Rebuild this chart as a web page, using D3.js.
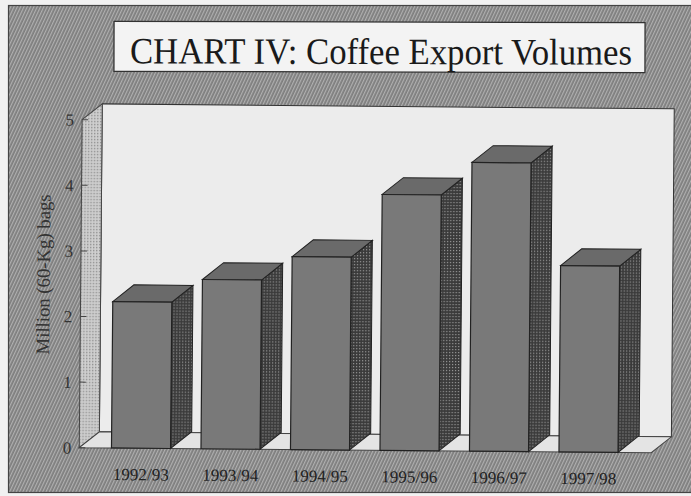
<!DOCTYPE html>
<html>
<head>
<meta charset="utf-8">
<script src="https://cdn.jsdelivr.net/npm/d3@7/dist/d3.min.js"></script>
<style>
  html, body { margin: 0; padding: 0; background: #f1f1f1; }
  svg { display: block; }
</style>
</head>
<body>
<svg id="chart" width="691" height="496"></svg>
<script>
const categories = ["1992/93", "1993/94", "1994/95", "1995/96", "1996/97", "1997/98"];
const values = [2.23, 2.58, 2.94, 3.90, 4.40, 2.84];
const yTicks = [0, 1, 2, 3, 4, 5];
const titleText = "CHART IV: Coffee Export Volumes";
const yTitle = "Million (60-Kg) bags";

const svg = d3.select("#chart");
const defs = svg.append("defs");

// panel hatch
const hatch = defs.append("pattern").attr("id", "hatch")
  .attr("width", 3).attr("height", 3).attr("patternUnits", "userSpaceOnUse")
  .attr("patternTransform", "rotate(25)");
hatch.append("rect").attr("width", 3).attr("height", 3).attr("fill", "#7e7e7e");
hatch.append("rect").attr("x", 0).attr("width", 1.2).attr("height", 3).attr("fill", "#b0b0b0");

// dark dotted side pattern
const side = defs.append("pattern").attr("id", "side")
  .attr("width", 3).attr("height", 3).attr("patternUnits", "userSpaceOnUse");
side.append("rect").attr("width", 3).attr("height", 3).attr("fill", "#3a3a3a");
side.append("rect").attr("x", 0).attr("y", 0).attr("width", 1.2).attr("height", 1.2).attr("fill", "#999");

// light dotted left wall pattern
const wallP = defs.append("pattern").attr("id", "wall")
  .attr("width", 3).attr("height", 3).attr("patternUnits", "userSpaceOnUse");
wallP.append("rect").attr("width", 3).attr("height", 3).attr("fill", "#cfcfcf");
wallP.append("rect").attr("x", 0).attr("y", 0).attr("width", 1.4).attr("height", 1.4).attr("fill", "#8e8e8e");

// outer panel
svg.append("rect").attr("x", 8.5).attr("y", 5.5).attr("width", 690).attr("height", 487)
  .attr("fill", "url(#hatch)").attr("stroke", "#444").attr("stroke-width", 1.2);

// title box
const tg = svg.append("g").attr("transform", "rotate(0.15,380,47)");
tg.append("rect").attr("x", 114).attr("y", 22).attr("width", 531).attr("height", 50)
  .attr("fill", "#f3f3f3").attr("stroke", "#333").attr("stroke-width", 1.3);
tg.append("text").attr("x", 130).attr("y", 64)
  .attr("font-family", "'Liberation Serif', 'Times New Roman', serif")
  .attr("font-size", 37).attr("fill", "#1a1a1a")
  .attr("textLength", 502).attr("lengthAdjust", "spacingAndGlyphs")
  .text(titleText);

// plot group, slightly rotated like the scan
const g = svg.append("g").attr("transform", "rotate(0.5,345,250)");

const x0 = 81, x1 = 653;
const dx = 20, dy = -16;
const bdx = 21, bdy = -17;

const y = d3.scaleLinear().domain([0, 5]).range([450, 122]);
const x = d3.scaleBand().domain(categories).range([98, 635]).paddingInner(0.34).paddingOuter(0.17);

const y0 = y(0), yTop = y(5);

// back wall
g.append("rect").attr("x", x0 + dx).attr("y", yTop + dy)
  .attr("width", x1 - x0).attr("height", y0 - yTop)
  .attr("fill", "#ececec").attr("stroke", "#333").attr("stroke-width", 1);

// left wall
g.append("path")
  .attr("d", `M${x0},${yTop} L${x0 + dx},${yTop + dy} L${x0 + dx},${y0 + dy} L${x0},${y0} Z`)
  .attr("fill", "url(#wall)").attr("stroke", "#444").attr("stroke-width", 1);

// floor
g.append("path")
  .attr("d", `M${x0},${y0} L${x0 + dx},${y0 + dy} L${x1 + dx},${y0 + dy} L${x1},${y0} Z`)
  .attr("fill", "#e4e4e4").attr("stroke", "#444").attr("stroke-width", 1);

// y ticks
g.selectAll("line.tick").data(yTicks).enter().append("line")
  .attr("x1", x0).attr("x2", x0 + 6)
  .attr("y1", d => y(d)).attr("y2", d => y(d))
  .attr("stroke", "#444").attr("stroke-width", 1);

g.selectAll("text.ylab").data(yTicks).enter().append("text")
  .attr("class", "ylab")
  .attr("x", 73).attr("y", d => y(d) + 6)
  .attr("text-anchor", "end")
  .attr("font-family", "'Liberation Serif', 'Times New Roman', serif")
  .attr("font-size", 17).attr("fill", "#333")
  .text(d => d);

// bars
const bars = g.selectAll("g.bar").data(values.map((v, i) => ({ c: categories[i], v }))).enter()
  .append("g").attr("class", "bar");

bars.append("path") // side
  .attr("d", d => {
    const xl = x(d.c) + x.bandwidth(), yt = y(d.v);
    return `M${xl},${yt} L${xl + bdx},${yt + bdy} L${xl + bdx},${y0 + bdy} L${xl},${y0} Z`;
  })
  .attr("fill", "url(#side)").attr("stroke", "#222").attr("stroke-width", 1);

bars.append("path") // top
  .attr("d", d => {
    const xl = x(d.c), xr = xl + x.bandwidth(), yt = y(d.v);
    return `M${xl},${yt} L${xl + bdx},${yt + bdy} L${xr + bdx},${yt + bdy} L${xr},${yt} Z`;
  })
  .attr("fill", "#6a6a6a").attr("stroke", "#222").attr("stroke-width", 1);

bars.append("rect") // front
  .attr("x", d => x(d.c)).attr("y", d => y(d.v))
  .attr("width", x.bandwidth()).attr("height", d => y0 - y(d.v))
  .attr("fill", "#797979").attr("stroke", "#222").attr("stroke-width", 1.2);

// x labels
g.selectAll("text.xlab").data(categories).enter().append("text")
  .attr("class", "xlab")
  .attr("x", d => x(d) + x.bandwidth() / 2).attr("y", 482)
  .attr("text-anchor", "middle")
  .attr("font-family", "'Liberation Serif', 'Times New Roman', serif")
  .attr("font-size", 17).attr("fill", "#222")
  .attr("textLength", 56).attr("lengthAdjust", "spacingAndGlyphs")
  .text(d => d);

// y title
g.append("text")
  .attr("transform", "translate(50,277) rotate(-90)")
  .attr("text-anchor", "middle")
  .attr("font-family", "'Liberation Serif', 'Times New Roman', serif")
  .attr("font-size", 19).attr("fill", "#333")
  .attr("textLength", 160).attr("lengthAdjust", "spacingAndGlyphs")
  .text(yTitle);
</script>
</body>
</html>
